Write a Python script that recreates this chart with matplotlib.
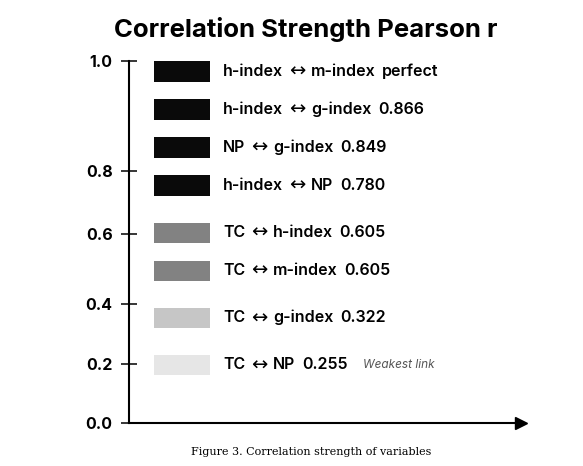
import numpy as np
import matplotlib
matplotlib.use("Agg")
import matplotlib.pyplot as plt
from matplotlib.scale import FuncScale

# ---- data ----
left_vars = ["h-index", "h-index", "NP", "h-index", "TC", "TC", "TC", "TC"]
right_vars = ["m-index", "g-index", "g-index", "NP", "h-index", "m-index",
              "g-index", "NP"]
r_values = [1.0, 0.866, 0.849, 0.780, 0.605, 0.605, 0.322, 0.255]
strength_group = [0, 0, 0, 0, 1, 1, 2, 3]
tick_values = [0.0, 0.2, 0.4, 0.6, 0.8, 1.0]
tick_labels = ["0.0", "0.2", "0.4", "0.6", "0.8", "1.0"]
title = "Correlation Strength Pearson r"
caption = "Figure 3. Correlation strength of variables"
note = "Weakest link"
arrow_sym = "\u2194"

# ---- style / layout ----
group_colors = ["#0a0a0a", "#828282", "#c6c6c6", "#e6e6e6"]
tick_frac = [0.0, 0.163, 0.329, 0.522, 0.696, 1.0]   # irregular axis as drawn
row_step, group_gap = 1.0, 0.24
SANS = ["Inter", "DejaVu Sans"]

W, H = 583, 466
fig = plt.figure(figsize=(W / 100, H / 100), dpi=100)
L, R, B, T = 128.7 / W, 521 / W, (H - 423) / H, (H - 61) / H
ax = fig.add_axes([L, B, R - L, T - B])

fwd = lambda v: np.interp(v, tick_values, tick_frac)
inv = lambda f: np.interp(f, tick_frac, tick_values)
ax.set_yscale(FuncScale(ax.yaxis, (fwd, inv)))
ax.set_ylim(0, 1)
ax.set_xlim(0, 1)
ax.set_yticks(tick_values, tick_labels)
ax.set_xticks([])
for s in ("top", "right"):
    ax.spines[s].set_visible(False)
for s in ("left", "bottom"):
    ax.spines[s].set_linewidth(1.5)
ax.tick_params(axis="y", direction="inout", length=11, width=1.1, pad=6)
for lab in ax.get_yticklabels():
    lab.set_fontfamily(SANS)
    lab.set_fontweight("bold")
    lab.set_fontsize(11.5)
ax.plot(1, 0, ">", color="black", ms=8, transform=ax.get_yaxis_transform(),
        clip_on=False)

# rows drawn on an overlay axes in row-slot units
ax2 = fig.add_axes([L, B, R - L, T - B], frameon=False)
ax2.set_xticks([]); ax2.set_yticks([])
ax2.set_xlim(0, 1)
ax2.set_ylim(9.25, -0.276)
slots = [i * row_step + g * group_gap for i, g in enumerate(strength_group)]
colors = [group_colors[g] for g in strength_group]
ax2.barh(slots, 0.1427, left=0.0645, height=0.53, color=colors)

txt_kw = dict(fontsize=11.5, fontweight="semibold", family=SANS,
              va="center", ha="left")
last = None
for y, a, b, r in zip(slots, left_vars, right_vars, r_values):
    lbl = "perfect" if r == 1.0 else f"{r:.3f}"
    t1 = ax2.text(0.2404, y, a, **txt_kw)
    t2 = ax2.annotate(arrow_sym, xy=(1, 0.5), xycoords=t1, xytext=(4.5, 0),
                      textcoords="offset points", va="center", ha="left",
                      fontsize=14, family=["DejaVu Sans"])
    t3 = ax2.annotate(b, xy=(1, 0.5), xycoords=t2, xytext=(4, 0),
                      textcoords="offset points", **txt_kw)
    last = ax2.annotate(lbl, xy=(1, 0.5), xycoords=t3, xytext=(4.5, 0),
                        textcoords="offset points", **txt_kw)
ax2.annotate(note, xy=(1, 0.5), xycoords=last, xytext=(11, 0),
             textcoords="offset points", va="center", ha="left",
             fontsize=8.5, style="italic", color="#555555", family=SANS)

fig.text(306 / W, (H - 29) / H, title, ha="center", va="center",
         fontsize=18.5, fontweight="bold", family=SANS)
fig.text(311 / W, (H - 452) / H, caption, ha="center", va="center",
         fontsize=8, family=["DejaVu Serif"])

fig.savefig("out.png", dpi=100)
